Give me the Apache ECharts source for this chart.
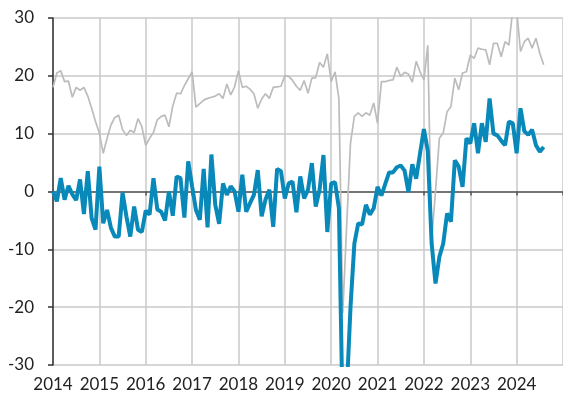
<!DOCTYPE html>
<html>
<head>
<meta charset="utf-8">
<script src="https://cdn.jsdelivr.net/npm/echarts@6/dist/echarts.min.js"></script>
<style>
  html, body { margin: 0; padding: 0; background: #fff; }
  #chart { width: 563px; height: 401px; }
</style>
</head>
<body>
<div id="chart"></div>
<script>
// monthly series, Jan 2014 onwards
const startYear = 2014
const grayValues = [
  18.0, 20.5, 20.9, 19.0, 19.1, 16.3, 18.0, 17.5, 18.0, 16.5, 14.4, 12.1,
  10.1, 6.6, 9.2, 11.5, 12.8, 13.2, 10.7, 9.7, 10.6, 10.2, 12.6, 11.2,
  8.0, 9.2, 10.2, 12.4, 13.0, 13.2, 11.2, 14.8, 17.0, 16.9, 18.3, 19.5,
  20.7, 14.6, 15.2, 15.8, 16.1, 16.3, 16.5, 16.9, 16.1, 18.6, 16.7, 18.1,
  20.9, 18.0, 18.2, 17.7, 16.9, 14.4, 16.0, 16.9, 16.1, 18.0, 18.1, 18.2,
  20.0, 19.9, 19.2, 18.2, 17.5, 19.2, 17.0, 19.6, 19.7, 22.3, 21.5, 23.8,
  19.0, 20.7, 16.0, -21.0, -6.0, 8.4, 13.0, 13.6, 13.0, 13.6, 13.2, 15.3,
  11.8, 19.0, 19.0, 19.2, 19.3, 21.5, 19.9, 20.6, 20.3, 18.9, 22.5, 20.7,
  19.3, 25.3, -8.4, 0.0, 9.2, 10.1, 13.8, 14.7, 19.6, 17.6, 20.5, 20.7,
  23.6, 23.0, 24.8, 24.6, 24.5, 21.9, 25.6, 25.6, 23.3, 25.9, 25.3, 31.5,
  31.5, 24.2, 25.9, 26.5, 24.8, 26.5, 23.9, 21.9
]
const blueValues = [
  0.0, -1.7, 2.3, -1.4, 1.0, -0.5, -1.5, 2.1, -3.9, 3.5, -4.6, -6.6,
  4.3, -5.5, -3.2, -6.3, -7.8, -7.8, -0.2, -4.3, -7.8, -2.6, -6.6, -7.0,
  -3.3, -4.0, 2.3, -3.1, -3.5, -5.0, 0.0, -4.2, 2.6, 2.3, -4.5, 5.2,
  0.9, -3.2, -4.9, 3.9, -6.2, 6.4, -2.3, -5.6, 1.4, -0.6, 0.9, 0.0,
  -3.5, 2.9, -3.5, -2.0, -0.6, 3.7, -4.3, -1.4, 0.3, -6.1, 3.9, 3.5,
  -1.2, 1.4, 1.7, -3.6, 2.6, -1.2, 0.3, 4.9, -2.6, 0.3, 6.3, -7.0,
  1.4, 1.6, -2.9, -40.0, -35.0, -20.0, -9.0, -5.5, -5.7, -2.3, -4.0, -2.9,
  0.8, -0.7, 1.3, 3.3, 3.3, 4.2, 4.5, 3.6, -0.1, 4.7, 2.2, 6.6,
  10.8, 7.0, -9.0, -15.9, -11.3, -9.0, -3.8, -5.2, 5.4, 4.3, 0.8, 9.2,
  8.3, 11.8, 6.6, 11.8, 8.6, 16.1, 10.0, 9.7, 8.8, 8.0, 12.1, 11.8,
  6.6, 14.4, 10.4, 9.8, 10.7, 8.0, 6.9, 7.7
]
const xMin = 2014
const xMax = 2025
const yMin = -30
const yMax = 30

function toPairs (values) {
  return values.map(function (v, i) { return [startYear + i / 12, v] })
}

const labelFont = { fontFamily: 'Lato', fontSize: 17, color: '#222' }

let myChart = echarts.init(document.getElementById('chart'))

let option = {
  animation: false,
  grid: { left: 53, right: 0, top: 18, bottom: 36 },
  xAxis: [
    {
      // zero line with the small year ticks
      type: 'value',
      min: xMin,
      max: xMax,
      interval: 1,
      axisLine: { onZero: true, lineStyle: { color: '#555', width: 1.5 } },
      axisTick: { show: true, length: 4, lineStyle: { color: '#555', width: 1.5 } },
      axisLabel: { show: false },
      splitLine: { show: true, lineStyle: { color: '#c8c8c8', width: 1.5 } }
    },
    {
      // year labels along the bottom
      type: 'value',
      position: 'bottom',
      min: xMin,
      max: xMax,
      interval: 1,
      axisLine: { show: false, onZero: false },
      axisTick: { show: false },
      splitLine: { show: false },
      axisLabel: Object.assign({ margin: 11, showMaxLabel: false, formatter: function (v) { return String(v) } }, labelFont)
    }
  ],
  yAxis: {
    type: 'value',
    min: yMin,
    max: yMax,
    interval: 10,
    axisLine: { show: true, lineStyle: { color: '#333', width: 1.5 } },
    axisTick: { show: true, length: 5, lineStyle: { color: '#333', width: 1.5 } },
    axisLabel: Object.assign({ margin: 19 }, labelFont),
    splitLine: { show: true, lineStyle: { color: '#c8c8c8', width: 1.5 } }
  },
  series: [
    {
      type: 'line',
      xAxisIndex: 0,
      data: toPairs(grayValues),
      symbol: 'none',
      lineStyle: { color: '#bcbcbc', width: 1.7 },
      z: 2
    },
    {
      type: 'line',
      xAxisIndex: 0,
      data: toPairs(blueValues),
      symbol: 'none',
      lineStyle: { color: '#0889b9', width: 4 },
      z: 3
    }
  ]
}
myChart.setOption(option)
</script>
</body>
</html>
